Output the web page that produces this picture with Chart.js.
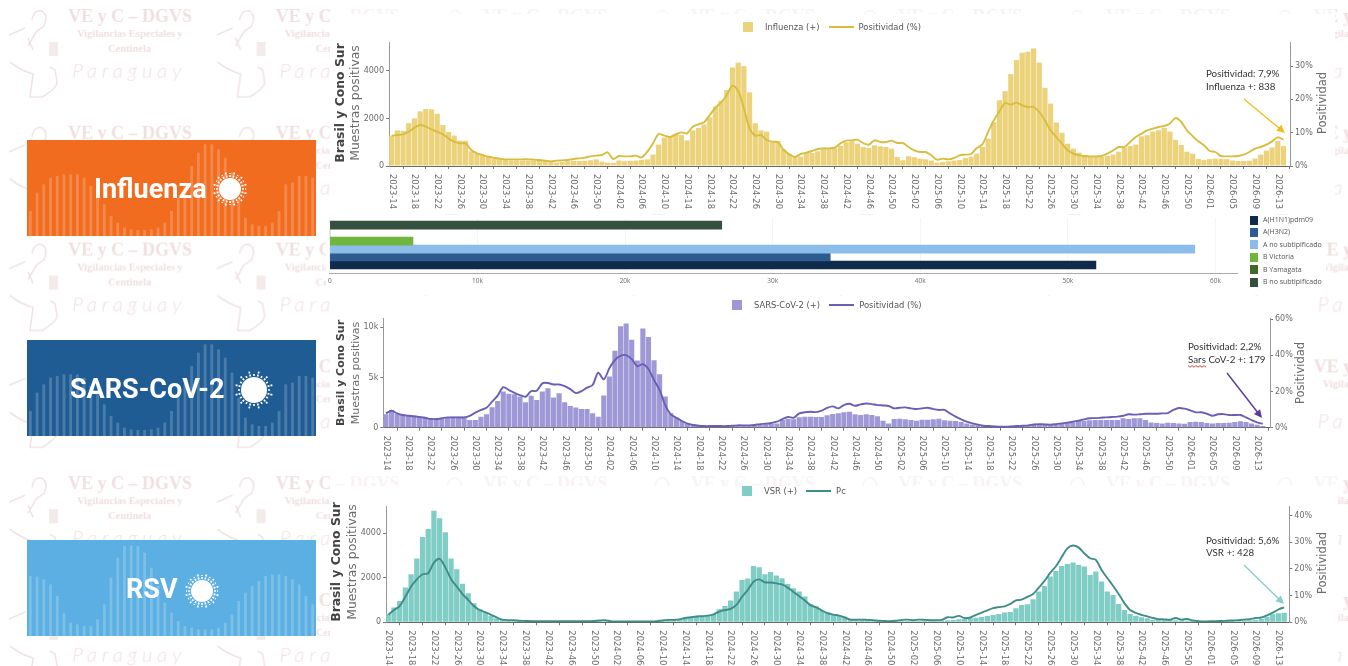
<!DOCTYPE html>
<html>
<head>
<meta charset="utf-8">
<title>Influenza, SARS-CoV-2 y VSR - Brasil y Cono Sur</title>
<script src="https://cdn.jsdelivr.net/npm/chart.js@4/dist/chart.umd.min.js"></script>
<style>
html, body { margin: 0; padding: 0; background: #fff; overflow: hidden; }
body { position: relative; width: 1348px; height: 666px; font-family: "DejaVu Sans", sans-serif; }
#watermark { position: absolute; left: 0; top: 0; }
.panel { position: absolute; background: #fff; }
.banner { position: absolute; left: 27px; width: 289px; height: 96px; }
.banner canvas { position: absolute; left: 0; top: 0; }
.banner b { position: absolute; top: 0; line-height: 98px; color: #fff; font: 700 27px/98px "Liberation Sans Narrow", Roboto, sans-serif; }
.banner svg { position: absolute; left: 0; top: 0; }
.legend { position: absolute; display: flex; align-items: center; height: 12px; font-size: 8.4px; color: #555; white-space: nowrap; }
.legend i { display: block; }
.legend .sw { width: 10px; height: 10px; margin-right: 12px; }
.legend .ln { width: 25px; height: 2px; margin: 0 5px 0 9px; }
.sublegend { position: absolute; left: 1250px; font-size: 7px; color: #555; font-family: "Open Sans", sans-serif; white-space: nowrap; line-height: 10px; }
.sublegend i { display: inline-block; width: 8px; height: 9px; margin-right: 5px; vertical-align: middle; }
</style>
</head>
<body>

<svg id="watermark" width="1348" height="666">
  <defs>
    <pattern id="tile" width="207.6" height="116.8" patternUnits="userSpaceOnUse">
      <g fill="#f0dfdf">
        <text x="68" y="22" font-family="Liberation Serif" font-weight="700" font-size="18">VE y C – DGVS</text>
        <text x="77" y="37" font-family="Liberation Serif" font-weight="700" font-size="10.5">Vigilancias Especiales y</text>
        <text x="108" y="52" font-family="Liberation Serif" font-weight="700" font-size="10.5">Centinela</text>
        <text x="72" y="78" font-family="Lato" font-style="italic" font-weight="300" font-size="20" letter-spacing="5">Paraguay</text>
      </g>
      <g fill="none" stroke="#eee0e0" stroke-width="1.4">
        <path d="M9 35 L25 28 M10 62 Q20 70 33 74 L30 97 L42 97 Q57 88 57 82 L55 70 L50 67"/>
        <path d="M32 20 Q34 9 42 11 Q49 16 44 26 L36 32 L28 46 M28 38 L33 50"/>
      </g>
      <rect x="49" y="42" width="9" height="14" fill="#f5eaea"/>
    </pattern>
  </defs>
  <rect width="1348" height="666" fill="url(#tile)"/>
</svg>

<div class="banner" style="top:140px;background:#f26c20"><canvas id="bannerFlu" width="289" height="96"></canvas><b style="left:67px">Influenza</b></div>
<div class="banner" style="top:340px;background:#1f5c94"><canvas id="bannerCov" width="289" height="96"></canvas><b style="left:43px">SARS-CoV-2</b></div>
<div class="banner" style="top:540px;background:#5cafe2"><canvas id="bannerRsv" width="289" height="96"></canvas><b style="left:99px">RSV</b></div>

<div class="panel" style="left:330px;top:14px;width:1005px;height:200px;box-shadow:0 -10px 0 rgba(255,255,255,.6)"><canvas id="fluChart"></canvas></div>
<div class="panel" style="left:326px;top:218px;width:1000px;height:74px"><canvas id="subtypeChart"></canvas></div>
<div class="panel" style="left:330px;top:296px;width:982px;height:180px"><canvas id="covChart"></canvas></div>
<div class="panel" style="left:330px;top:486px;width:1008px;height:180px;box-shadow:0 -10px 0 rgba(255,255,255,.6)"><canvas id="rsvChart"></canvas></div>

<div class="legend" style="left:743px;top:21px"><i class="sw" style="background:#ecd27b"></i><span>Influenza (+)</span><i class="ln" style="background:#d8bd3e"></i><span>Positividad (%)</span></div>
<div class="legend" style="left:732px;top:299px"><i class="sw" style="background:#9f98d6"></i><span>SARS-CoV-2 (+)</span><i class="ln" style="background:#6a5fb5"></i><span>Positividad (%)</span></div>
<div class="legend" style="left:742px;top:485px"><i class="sw" style="background:#7fcdc5"></i><span>VSR (+)</span><i class="ln" style="background:#3f8d86"></i><span>Pc</span></div>
<div id="subLegend"></div>

<script>
// Semanas epidemiologicas, una etiqueta cada 4 semanas
const tickLabels = [
  '2023-14','2023-18','2023-22','2023-26','2023-30','2023-34','2023-38','2023-42','2023-46','2023-50',
  '2024-02','2024-06','2024-10','2024-14','2024-18','2024-22','2024-26','2024-30','2024-34','2024-38',
  '2024-42','2024-46','2024-50','2025-02','2025-06','2025-10','2025-14','2025-18','2025-22','2025-26',
  '2025-30','2025-34','2025-38','2025-42','2025-46','2025-50','2026-01','2026-05','2026-09','2026-13'
];

const influenzaBars = [
  1280,1500,1480,1800,2000,2300,2400,2380,2200,1720,
  1430,1280,1070,1060,620,520,450,380,320,290,
  260,240,240,230,230,230,220,210,180,150,
  170,200,210,210,220,240,280,180,140,130,
  230,200,220,230,260,280,480,900,1200,1250,
  1350,1300,1080,1500,1600,1750,2050,2500,2750,3200,
  4150,4350,4200,3100,1800,1500,1450,1000,1050,700,
  500,400,400,540,550,620,720,720,750,850,
  1000,1040,940,800,760,870,830,800,730,380,
  240,410,370,310,280,230,140,170,200,230,
  250,340,390,520,800,1150,1850,2770,3150,3870,
  4460,4770,4810,4950,4350,3290,2630,1830,1400,940,
  730,560,440,400,390,380,420,480,600,780,
  840,900,1250,1300,1450,1500,1600,1450,1100,880,
  600,520,300,250,290,310,300,290,230,210,
  210,220,310,480,650,780,1050,838
];
const influenzaPos = [
  9.1,9.3,9.5,10.3,11.5,12.3,11.8,11,10.3,9.5,
  8.3,7.3,6.8,6.8,4.8,3.8,3.3,2.8,2.5,2.2,
  2,2,2,2,2,1.9,1.8,1.6,1.4,1.6,
  1.7,1.8,2.1,2.3,2.5,2.9,3.1,3.3,4.1,2.1,
  3,2.9,2.9,3.1,2.6,4.3,6.8,9.6,9.1,8.7,
  9.5,10.1,9.8,11.8,12.5,13.1,15.3,17.5,19.1,21.3,
  24.1,22.5,17.3,11.3,9.1,9.3,7.8,7.3,7.1,4.8,
  3.5,2.7,3.6,4,4.5,5.1,5.3,5.3,5.5,6.8,
  7.6,7.7,7.9,6.9,6.4,7.7,7.2,7.2,7.6,6.9,
  6.9,5.7,4.7,4.2,4.2,3.2,1.9,2.2,2,2.4,
  3.2,3.4,3.6,5.4,6.5,10.2,13.7,16.4,18.9,18.4,
  19,18.2,17.7,17.7,16.2,13.7,10.7,8.7,6.7,4.7,
  3.7,3.2,3,2.9,2.9,3,3.7,4.7,5.7,5.7,
  7.2,8.7,9.7,10.7,11.2,11.7,12,12.7,14.4,13.2,
  10.7,9,7.4,6.2,4.5,4.2,3,2.9,2.9,3,
  3.4,4.2,5.2,5.7,6.4,7.4,8.6,7.9
];

const sarsBars = [
  1330,1770,1370,1270,1270,1200,1070,1070,930,870,
  870,1030,1100,1100,1100,770,770,1100,1330,2030,
  2670,3600,3370,3330,3100,2530,3170,2770,3600,3930,
  3000,3430,2530,2170,2000,1870,1870,1430,1100,3200,
  5100,7670,10100,10370,8770,6700,9870,9030,6730,5330,
  3100,1430,1000,670,430,330,270,200,200,170,
  170,170,170,200,230,200,230,270,330,370,
  430,770,870,830,1030,1100,1100,1070,1070,1230,
  1370,1430,1530,1600,1330,1270,1330,1270,1130,700,
  430,870,900,830,770,700,800,800,830,900,
  730,700,670,570,430,330,270,200,170,130,
  130,130,170,170,200,230,270,270,300,300,
  330,430,470,530,670,700,730,770,770,770,
  770,770,930,870,930,930,770,530,470,430,
  500,470,430,400,570,600,570,470,430,470,
  470,500,570,630,570,430,300,179
];
const sarsPos = [
  7.9,9.4,7.9,7,6.6,6.3,5.9,5.5,4.8,4.8,
  5.2,5.7,5.7,5.7,5.7,6.6,8.3,9.8,11,14.4,
  17.7,22.4,20.8,19.3,18,17.1,20.2,20.4,24.5,24.7,
  23.9,23.9,23,21.3,19.1,20.2,22.1,23.6,30.4,26.7,
  32.8,37.4,39.7,40.1,37.9,34,35.1,32.4,26.3,20.8,
  12.5,7.4,5.5,3.7,2.2,1.5,1.1,.9,.9,.9,
  .9,.9,1.1,1.3,1.3,1.3,1.5,2,2.2,2.6,
  3.3,4.8,5.9,5.5,7.9,8.5,8.8,8.6,9.4,11,
  11.8,10.7,12.5,13.2,12.1,12.9,13.4,13,12.5,12.3,
  12,10.7,11,11.2,10.7,10.3,10.7,11,10.3,9.8,
  9.8,7.9,6.1,4.6,3.3,2.4,1.7,1.1,.9,.7,
  .55,.55,.7,.9,1.1,1.3,1.8,2,1.8,1.7,
  2,2.4,2.8,3.3,3.9,4.6,5.2,5.3,5.5,5.7,
  5.9,6.1,6.6,7.4,7.2,7.4,7.7,7.7,7.7,7.9,
  8.1,9.8,10.9,10.5,9.6,8.5,8.5,7.7,6.6,7.4,
  7.5,7,7,7,5.7,4.2,2.9,2.2
];

const rsvBars = [
  360,660,960,1560,2160,2870,3830,4190,5010,4680,
  4050,2870,2390,1730,1310,860,600,440,290,180,
  120,105,105,90,90,75,60,60,60,50,
  45,45,40,40,40,45,75,90,105,45,
  30,30,30,30,30,30,35,50,75,105,
  120,150,210,240,270,285,330,375,585,735,
  975,1380,1905,1965,2535,2475,2160,2265,2100,1980,
  1725,1530,1380,1155,825,720,525,435,330,300,
  255,135,105,105,90,90,75,60,60,75,
  60,60,60,60,60,60,60,75,90,105,
  135,150,180,210,240,285,330,375,435,465,
  630,780,810,1035,1380,1635,2055,2310,2535,2625,
  2685,2580,2505,2130,2280,1830,1380,1230,825,555,
  375,300,225,180,105,105,105,105,90,90,
  75,60,45,45,45,45,60,60,60,75,
  75,90,105,165,255,360,405,428
];
const rsvPos = [
  2.8,4.6,6.1,9.6,13.4,16.1,18,18.4,22.4,23.8,
  20.6,16.1,13.4,10.6,8.4,6.1,4.6,3.8,2.8,1.8,
  1,.8,.8,.6,.5,.4,.4,.4,.4,.4,
  .4,.4,.4,.4,.4,.4,.5,.7,.8,.4,
  .3,.3,.3,.3,.3,.3,.3,.4,.7,.9,
  .9,1.1,1.6,1.9,2.2,2.3,2.5,3,4,4.6,
  5,6.5,9.6,12.1,15.2,16.1,15,14.9,14.6,14.2,
  13,11.4,9.8,8.2,6.4,5.6,4.4,3.4,2.9,2.5,
  1.8,1,1,1,.9,.8,.6,.5,.4,.6,
  .9,1,.8,1,.9,.8,.8,.9,1.9,1.8,
  2.4,1.6,1.8,2.8,3.6,4.5,5.3,5.7,6,6.9,
  8.2,8.5,9.5,10.6,13,15.5,18.5,21,24.4,27.7,
  28.8,28,25.8,24,23.4,19.6,16.6,13.7,10.6,7.2,
  4.6,3.5,2.8,2.2,1.6,1.2,1.1,1,1.6,1,
  1.25,.7,.4,.3,.4,.4,.5,.6,.7,.8,
  1,1.2,1.6,1.8,2.6,3.6,4.8,5.6
];

// Subtipos de influenza, de abajo hacia arriba
const subtypes = ['A(H1N1)pdm09', 'A(H3N2)', 'A no subtipificado', 'B Victoria', 'B Yamagata', 'B no subtipificado'];
const subtypeValues = [51900, 33900, 58600, 5630, 0, 26550];
const subtypeColors = ['#0f2a4a', '#2c5c8f', '#8cbcea', '#6fb53e', '#3e6b2a', '#35503f'];
const subtypeTicks = [0, 10000, 20000, 30000, 40000, 50000, 60000];

const fluTicks = [0, 2000, 4000];
const covTicks = [0, 5000, 10000];
const rsvTicks = [0, 2000, 4000];

const bannerWaveFlu = [75,130,155,175,180,185,185,185,175,150,125,95,60,40,25,20,18,18,20,25,40,75,115,155,210,250,275,275,260,235,190,115,55,35,30,30,40,75,155,160,180,180,175];
const bannerWaveRsv = [180,178,170,155,120,70,40,35,30,30,50,95,175,235,270,272,270,250,205,150,100,70,45,30,25,20,20,20,25,40,65,105,130,150,165,180,185,185,180,170,155,120,95];

// Franjas de fondo de los recuadros
function drawBanner(id, wave) {
  new Chart(document.getElementById(id), {
    type: 'bar',
    data: {
      labels: wave.map((_, i) => i),
      datasets: [{ data: wave, backgroundColor: 'rgba(255,255,255,0.2)', barPercentage: 0.42, categoryPercentage: 1 }]
    },
    options: {
      responsive: false,
      animation: false,
      plugins: { legend: { display: false }, tooltip: { enabled: false } },
      scales: { x: { display: false }, y: { display: false, min: 0, max: 288 } }
    }
  });
}
drawBanner('bannerFlu', bannerWaveFlu);
drawBanner('bannerCov', bannerWaveFlu);
drawBanner('bannerRsv', bannerWaveRsv);

// Icono del virus sobre cada recuadro
function addVirus(bannerId, cx, cy, r, ray) {
  let rays = '';
  for (let a = 0; a < 360; a += 15) {
    const c = Math.cos(a * Math.PI / 180), s = Math.sin(a * Math.PI / 180);
    const r0 = r + 1, r1 = r + 2 + (a % 30 ? ray : ray - 2);
    rays += `<line x1="${cx + c * r0}" y1="${cy + s * r0}" x2="${cx + c * r1}" y2="${cy + s * r1}"/>`;
  }
  document.getElementById(bannerId).parentNode.insertAdjacentHTML('beforeend',
    `<svg width="289" height="96"><circle cx="${cx}" cy="${cy}" r="${r}" fill="#fff"/><g stroke="#fff" stroke-width="1.7" stroke-dasharray="2 1">${rays}</g></svg>`);
}
addVirus('bannerFlu', 203, 49, 11, 5);
addVirus('bannerCov', 227, 50, 13, 4);
addVirus('bannerRsv', 175, 51, 11, 5);

const GRAY = '#6b6b6b';

// Titulos laterales y llamada con flecha, en coordenadas de la pagina
function overlayPlugin(c) {
  return {
    id: 'overlay',
    afterDraw(chart) {
      const ctx = chart.ctx;
      ctx.save();
      ctx.translate(-c.left, -c.top);
      const rotated = (text, x, y, font, color) => {
        ctx.save();
        ctx.translate(x, y);
        ctx.rotate(-Math.PI / 2);
        ctx.font = font;
        ctx.fillStyle = color;
        ctx.textAlign = 'center';
        ctx.textBaseline = 'middle';
        ctx.fillText(text, 0, 0);
        ctx.restore();
      };
      rotated('Brasil y Cono Sur', c.titleX[0], c.titleY, `700 ${c.titleSize}px "DejaVu Sans"`, '#444');
      rotated('Muestras positivas', c.titleX[1], c.titleY, `${c.titleSize}px "DejaVu Sans"`, GRAY);
      rotated('Positividad', c.rightX, c.rightY, '11.5px "DejaVu Sans"', GRAY);

      ctx.font = `${c.noteSize}px Lato`;
      ctx.fillStyle = '#333';
      ctx.textBaseline = 'middle';
      c.note.forEach((line, i) => ctx.fillText(line, c.noteX, c.noteY[i]));

      const [x0, y0, x1, y1] = c.arrow;
      const ang = Math.atan2(y1 - y0, x1 - x0);
      ctx.strokeStyle = c.arrowColor;
      ctx.fillStyle = c.arrowColor;
      ctx.lineWidth = 1.4;
      ctx.beginPath();
      ctx.moveTo(x0, y0);
      ctx.lineTo(x1 - 6 * Math.cos(ang), y1 - 6 * Math.sin(ang));
      ctx.stroke();
      ctx.beginPath();
      ctx.moveTo(x1, y1);
      ctx.lineTo(x1 - 9 * Math.cos(ang - 0.45), y1 - 9 * Math.sin(ang - 0.45));
      ctx.lineTo(x1 - 9 * Math.cos(ang + 0.45), y1 - 9 * Math.sin(ang + 0.45));
      ctx.closePath();
      ctx.fill();

      if (c.squiggle) {
        const [sx, sy, sw] = c.squiggle;
        ctx.strokeStyle = '#d8362a';
        ctx.lineWidth = 0.9;
        ctx.beginPath();
        for (let px = 0; px <= sw; px += 2) {
          const yy = sy + (px % 4 ? 1.2 : -0.4);
          if (px === 0) ctx.moveTo(sx, yy); else ctx.lineTo(sx + px, yy);
        }
        ctx.stroke();
      }
      ctx.restore();
    }
  };
}

function weekChart(id, c) {
  const canvas = document.getElementById(id);
  const box = canvas.parentNode;
  c.left = box.offsetLeft;
  c.top = box.offsetTop;
  new Chart(canvas, {
    data: {
      datasets: [
        {
          type: 'line', label: c.lineLabel, yAxisID: 'y1', order: 0,
          data: c.line.map((v, i) => ({ x: i, y: v })),
          borderColor: c.lineColor, borderWidth: 1.9, pointRadius: 0, tension: 0.3
        },
        {
          type: 'bar', label: c.barLabel, yAxisID: 'y', order: 1,
          data: c.bars.map((v, i) => ({ x: i, y: v })),
          backgroundColor: c.barColor, barPercentage: 0.92, categoryPercentage: 1
        }
      ]
    },
    options: {
      responsive: true,
      maintainAspectRatio: false,
      animation: false,
      layout: { padding: { top: c.plot.top - c.top } },
      plugins: { legend: { display: false }, tooltip: { enabled: false } },
      scales: {
        x: {
          type: 'linear', min: c.xMin, max: c.xMax, offset: false,
          afterBuildTicks: s => { s.ticks = tickLabels.map((_, i) => ({ value: i * 4 })); },
          afterFit: s => { s.height = c.top + box.offsetHeight - c.plot.bottom; },
          grid: { drawOnChartArea: false, tickLength: 3, color: '#777' },
          border: { color: '#666' },
          ticks: {
            autoSkip: false, minRotation: -90, maxRotation: -90, padding: 40,
            color: GRAY, font: { family: 'DejaVu Sans', size: 8.4 },
            callback: v => tickLabels[v / 4]
          }
        },
        y: {
          position: 'left', min: 0, max: c.yMax,
          afterBuildTicks: s => { s.ticks = c.yTicks.map(v => ({ value: v })); },
          afterFit: s => { s.width = c.plot.left - c.left; },
          grid: { drawOnChartArea: false, tickLength: 3, color: '#777' },
          border: { color: '#999' },
          ticks: { color: GRAY, padding: 2, font: { family: 'DejaVu Sans', size: 8 }, callback: c.yFormat }
        },
        y1: {
          position: 'right', min: 0, max: c.y1Max,
          afterFit: s => { s.width = c.left + box.offsetWidth - c.plot.right; },
          grid: { drawOnChartArea: false, tickLength: 3, color: '#777' },
          border: { color: '#999' },
          ticks: { stepSize: c.y1Step, includeBounds: false, color: GRAY, padding: 2, font: { family: 'DejaVu Sans', size: 8 }, callback: v => v + '%' }
        }
      }
    },
    plugins: [overlayPlugin(c)]
  });
}

weekChart('fluChart', {
  bars: influenzaBars, line: influenzaPos, barLabel: 'Influenza (+)', lineLabel: 'Positividad (%)',
  barColor: '#ecd27b', lineColor: '#d8bd3e',
  plot: { left: 389, right: 1290, top: 42, bottom: 166 },
  xMin: -0.48, xMax: 158.15, yMax: 5220, yTicks: fluTicks, y1Max: 37.2, y1Step: 10, yFormat: v => v,
  titleX: [341, 356], titleY: 103, titleSize: 12.4, rightX: 1323, rightY: 103,
  note: ['Positividad: 7,9%', 'Influenza +: 838'], noteX: 1206, noteY: [74, 87], noteSize: 9.8,
  arrow: [1244, 99, 1285, 133], arrowColor: '#efbe1e'
});

weekChart('covChart', {
  bars: sarsBars, line: sarsPos, barLabel: 'SARS-CoV-2 (+)', lineLabel: 'Positividad (%)',
  barColor: '#9f98d6', lineColor: '#6a5fb5',
  plot: { left: 383.3, right: 1270, top: 318, bottom: 427.7 },
  xMin: -0.48, xMax: 158.3, yMax: 10926, yTicks: covTicks, y1Max: 60.6, y1Step: 20, yFormat: v => (v ? v / 1000 + 'k' : 0),
  titleX: [341, 356], titleY: 373, titleSize: 11, rightX: 1301, rightY: 373,
  note: ['Positividad: 2,2%', 'Sars CoV-2 +: 179'], noteX: 1188, noteY: [347, 360], noteSize: 9.8,
  arrow: [1227, 373, 1262, 418], arrowColor: '#5a3a9e', squiggle: [1188, 366, 19]
});

weekChart('rsvChart', {
  bars: rsvBars, line: rsvPos, barLabel: 'VSR (+)', lineLabel: 'Pc',
  barColor: '#7fcdc5', lineColor: '#3f8d86',
  plot: { left: 386, right: 1289.3, top: 506, bottom: 622.3 },
  xMin: -0.4, xMax: 157.9, yMax: 5228, yTicks: rsvTicks, y1Max: 43.6, y1Step: 10, yFormat: v => v,
  titleX: [337, 353], titleY: 562, titleSize: 12.4, rightX: 1323, rightY: 563,
  note: ['Positividad: 5,6%', 'VSR +: 428'], noteX: 1206, noteY: [541, 553], noteSize: 9.8,
  arrow: [1244, 565, 1284, 604], arrowColor: '#86cfcb'
});

// Barras horizontales por subtipo
new Chart(document.getElementById('subtypeChart'), {
  type: 'bar',
  data: {
    datasets: [{
      data: subtypeValues.map((v, i) => ({ x: v, y: i })),
      backgroundColor: subtypeColors,
      barPercentage: 1, categoryPercentage: 1
    }]
  },
  options: {
    indexAxis: 'y',
    responsive: true,
    maintainAspectRatio: false,
    animation: false,
    layout: { padding: { left: 3.2, right: 88.4, top: 0 } },
    plugins: { legend: { display: false }, tooltip: { enabled: false } },
    scales: {
      x: {
        min: 0, max: 61500,
        afterBuildTicks: s => { s.ticks = subtypeTicks.map(v => ({ value: v })); },
        afterFit: s => { s.height = 18.7; },
        grid: { color: '#f5f5f5', tickLength: 2 },
        border: { color: '#aaa' },
        ticks: {
          maxRotation: 0, color: GRAY, padding: 2,
          font: { family: 'Open Sans', size: 6.5 }, callback: v => (v ? v / 1000 + 'k' : 0)
        }
      },
      y: {
        type: 'linear', min: -1.04, max: 5.9, offset: false,
        afterFit: s => { s.width = 0; },
        grid: { display: false },
        border: { display: false },
        ticks: { display: false }
      }
    }
  }
});

document.getElementById('subLegend').innerHTML = subtypes.map((name, i) =>
  `<div class="sublegend" style="top:${215 + i * 12.4}px"><i style="background:${subtypeColors[i]}"></i>${name}</div>`
).join('');
</script>
</body>
</html>
